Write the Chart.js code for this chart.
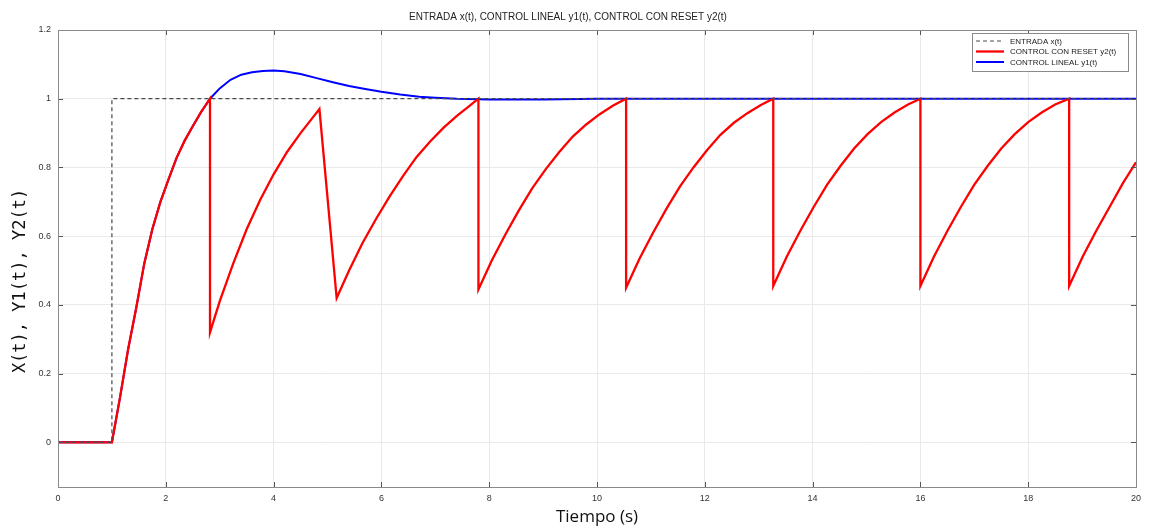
<!DOCTYPE html>
<html>
<head>
<meta charset="utf-8">
<script src="https://cdn.jsdelivr.net/npm/chart.js@4.4.1/dist/chart.umd.min.js"></script>
<style>
  body { margin: 0; background: #fff; }
  canvas { display: block; }
</style>
</head>
<body>
<canvas id="respChart" width="1149" height="529"></canvas>
<script>
// Data (time in seconds)
const inputT = [0, 1, 1, 20];
const inputY = [0, 0, 1, 1];

// common start: both controllers rise together until t = 2.82
const riseT = [0, 1.0, 1.15, 1.3, 1.45, 1.6, 1.75, 1.9, 2.05, 2.2, 2.35, 2.5, 2.65, 2.82];
const riseY = [0, 0, 0.13, 0.27, 0.39, 0.52, 0.62, 0.70, 0.765, 0.828, 0.878, 0.92, 0.96, 1.0];

// CONTROL LINEAL y1(t) after t = 2.82
const linearT = [3.0, 3.2, 3.4, 3.6, 3.8, 4.0, 4.2, 4.5, 4.8, 5.1, 5.4, 5.7, 6.0, 6.35, 6.7, 7.0, 7.4, 8.0, 9.0, 10.0, 20.0];
const linearY = [1.03, 1.055, 1.07, 1.077, 1.081, 1.082, 1.08, 1.072, 1.06, 1.048, 1.037, 1.028, 1.02, 1.012, 1.006, 1.003, 1.0, 0.998, 0.998, 1.0, 1.0];

// CONTROL CON RESET y2(t) after t = 2.82
const resetT = [
  2.82, 3.0, 3.25, 3.5, 3.75, 4.0, 4.25, 4.5, 4.7, 4.85,
  5.17, 5.4, 5.65, 5.9, 6.15, 6.4, 6.65, 6.9, 7.15, 7.4, 7.6, 7.80,
  7.80, 8.05, 8.30, 8.55, 8.80, 9.05, 9.30, 9.55, 9.80, 10.05, 10.30, 10.54,
  10.54, 10.79, 11.04, 11.29, 11.54, 11.79, 12.04, 12.29, 12.54, 12.79, 13.04, 13.27,
  13.27, 13.52, 13.77, 14.02, 14.27, 14.52, 14.77, 15.02, 15.27, 15.52, 15.77, 16.00,
  16.00, 16.25, 16.50, 16.75, 17.00, 17.25, 17.50, 17.75, 18.00, 18.25, 18.50, 18.76,
  18.76, 19.01, 19.26, 19.51, 19.76, 20.0
];
const resetY = [
  0.32, 0.41, 0.52, 0.62, 0.705, 0.78, 0.845, 0.90, 0.94, 0.97,
  0.42, 0.50, 0.58, 0.65, 0.715, 0.775, 0.83, 0.875, 0.915, 0.95, 0.975, 1.0,
  0.445, 0.53, 0.605, 0.675, 0.74, 0.795, 0.845, 0.89, 0.925, 0.955, 0.98, 1.0,
  0.45, 0.535, 0.61, 0.68, 0.745, 0.80, 0.85, 0.895, 0.93, 0.958, 0.982, 1.0,
  0.455, 0.54, 0.615, 0.685, 0.75, 0.805, 0.855, 0.897, 0.932, 0.96, 0.983, 1.0,
  0.455, 0.54, 0.615, 0.685, 0.75, 0.805, 0.855, 0.897, 0.932, 0.96, 0.983, 1.0,
  0.455, 0.54, 0.615, 0.685, 0.755, 0.815
];

const xTicks = [0, 2, 4, 6, 8, 10, 12, 14, 16, 18, 20];
const yTicks = [0, 0.2, 0.4, 0.6, 0.8, 1, 1.2];

const toPts = (ts, ys) => ts.map((t, i) => ({ x: t, y: ys[i] }));

// frame, inner tick marks, y title and boxed legend (MATLAB look)
const matlabBox = {
  id: "matlabBox",
  afterDraw(chart) {
    const { ctx, chartArea: a, scales } = chart;
    ctx.save();
    ctx.strokeStyle = "#555";
    ctx.lineWidth = 1;
    ctx.beginPath();
    yTicks.forEach(v => {
      const py = Math.round(scales.y.getPixelForValue(v)) + 0.5;
      ctx.moveTo(a.left, py); ctx.lineTo(a.left + 5, py);
      ctx.moveTo(a.right, py); ctx.lineTo(a.right - 5, py);
    });
    xTicks.forEach(v => {
      const px = Math.round(scales.x.getPixelForValue(v)) + 0.5;
      ctx.moveTo(px, a.bottom); ctx.lineTo(px, a.bottom - 5);
      ctx.moveTo(px, a.top); ctx.lineTo(px, a.top + 5);
    });
    ctx.stroke();

    ctx.strokeStyle = "#8a8a8a";
    ctx.strokeRect(Math.round(a.left) + 0.5, Math.round(a.top) + 0.5,
      Math.round(a.right - a.left), Math.round(a.bottom - a.top));

    // y axis title
    ctx.fillStyle = "#111";
    ctx.font = "17px 'DejaVu Sans Mono'";
    ctx.textAlign = "center";
    ctx.textBaseline = "middle";
    ctx.translate(21, 281);
    ctx.rotate(-Math.PI / 2);
    ctx.fillText("X(t), Y1(t), Y2(t)", 0, 0);
    ctx.setTransform(1, 0, 0, 1, 0, 0);

    // legend
    const bx = a.right - 164, by = a.top + 3, bw = 156, bh = 38;
    ctx.fillStyle = "#fff";
    ctx.fillRect(bx, by, bw, bh);
    ctx.strokeStyle = "#8a8a8a";
    ctx.strokeRect(bx + 0.5, by + 0.5, bw, bh);
    ctx.font = "8px 'Liberation Sans'";
    ctx.textAlign = "left";
    chart.data.datasets.forEach((ds, i) => {
      const ly = by + 8 + i * 10.5;
      ctx.strokeStyle = ds.borderColor;
      ctx.lineWidth = ds.borderWidth;
      ctx.setLineDash(ds.borderDash || []);
      ctx.beginPath();
      ctx.moveTo(bx + 4, ly); ctx.lineTo(bx + 32, ly);
      ctx.stroke();
      ctx.setLineDash([]);
      ctx.fillStyle = "#222";
      ctx.fillText(ds.label, bx + 38, ly + 0.5);
    });
    ctx.restore();
  }
};

const ctx = document.getElementById("respChart").getContext("2d");
new Chart(ctx, {
  type: "line",
  data: {
    datasets: [
      {
        label: "ENTRADA x(t)",
        data: toPts(inputT, inputY),
        borderColor: "#4a4a4a",
        borderWidth: 1.2,
        borderDash: [4, 3]
      },
      {
        label: "CONTROL CON RESET y2(t)",
        data: toPts(riseT.concat(resetT), riseY.concat(resetY)),
        borderColor: "#ff0000",
        borderWidth: 2.3
      },
      {
        label: "CONTROL LINEAL y1(t)",
        data: toPts(riseT.concat(linearT), riseY.concat(linearY)),
        borderColor: "#0000ff",
        borderWidth: 2
      }
    ]
  },
  options: {
    responsive: false,
    devicePixelRatio: 1,
    animation: false,
    layout: { padding: { left: 0, right: 13, top: 0, bottom: 0 } },
    elements: { point: { radius: 0 }, line: { tension: 0 } },
    plugins: {
      legend: { display: false },
      tooltip: { enabled: false },
      title: {
        display: true,
        text: "ENTRADA x(t), CONTROL LINEAL y1(t), CONTROL CON RESET y2(t)",
        color: "#222",
        font: { family: "'Liberation Sans', Arial", size: 10, weight: "normal" },
        padding: { top: 11, bottom: 7 }
      }
    },
    scales: {
      x: {
        type: "linear",
        min: 0,
        max: 20,
        afterBuildTicks: s => { s.ticks = xTicks.map(v => ({ value: v })); },
        afterFit: s => { s.height = 42; },
        ticks: {
          color: "#333",
          font: { family: "'Liberation Sans', Arial", size: 9 },
          padding: 6,
          maxRotation: 0
        },
        grid: { color: "#e9e9e9", drawTicks: false },
        border: { display: false },
        title: {
          display: true,
          text: "Tiempo (s)",
          color: "#111",
          font: { family: "'Open Sans'", size: 17 },
          padding: { top: 0, bottom: 2 }
        }
      },
      y: {
        min: -0.13,
        max: 1.2,
        afterBuildTicks: s => { s.ticks = yTicks.map(v => ({ value: v })); },
        afterFit: s => { s.width = 58; },
        ticks: {
          color: "#333",
          font: { family: "'Liberation Sans', Arial", size: 9 },
          padding: 7,
          callback: v => String(v)
        },
        grid: { color: "#e9e9e9", drawTicks: false },
        border: { display: false }
      }
    }
  },
  plugins: [matlabBox]
});
</script>
</body>
</html>
